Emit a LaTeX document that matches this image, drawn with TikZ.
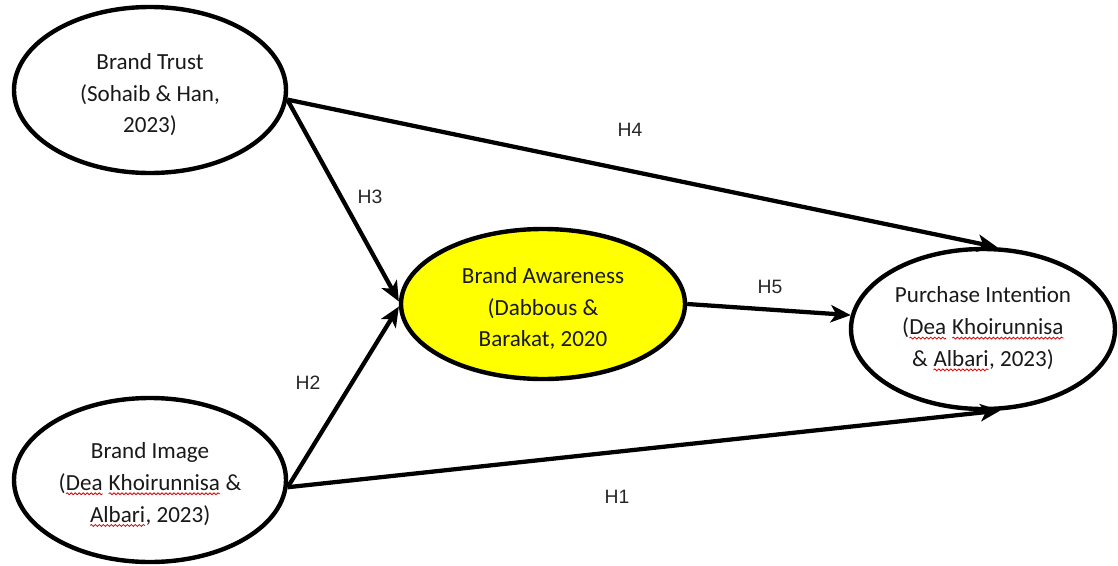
\documentclass[tikz,border=0pt]{standalone}
\usepackage{fontspec}
\setmainfont{Carlito}
\newfontfamily\labelfont{Liberation Sans}
\usetikzlibrary{shapes.geometric,arrows.meta,decorations.pathmorphing}
\definecolor{awareyellow}{HTML}{FFFF00}
\tikzset{
  construct/.style={ellipse, draw=black, line width=3.3pt, inner sep=0pt, align=center,
    font=\fontsize{17.3}{23.8}\selectfont, text=black!90},
  link/.style={line width=3.2pt, -{Stealth[length=15pt,width=13pt,inset=4pt]}},
  hyp/.style={font=\labelfont\fontsize{14.5}{16}\selectfont, text=black!85, inner sep=0pt},
}
\newcommand\squig[1]{\tikz[baseline=(w.base)]{\node[shape=rectangle,draw=none,fill=none,inner sep=0pt,outer sep=0pt,minimum width=0pt,minimum height=0pt] (w) {#1};
  \draw[red!90!black,line width=0.6pt,decorate,decoration={snake,amplitude=0.7pt,segment length=3pt}] ([yshift=-2.6pt]w.base west) -- ([yshift=-2.6pt]w.base east);}}
\newcommand\topgap{\rule{0pt}{19pt}}
\begin{document}
\begin{tikzpicture}[x=0.75pt,y=-0.75pt]
\useasboundingbox (0,0) rectangle (1118,565);
\node[construct, fill=white, minimum width=204pt, minimum height=124.5pt] (bt) at (150,90)
  {\topgap Brand Trust\\(Sohaib \& Han,\\2023)};
\node[construct, fill=white, minimum width=204pt, minimum height=123pt] (bi) at (150,480)
  {\topgap Brand Image\\(\squig{Dea} \squig{Khoirunnisa} \&\\\squig{Albari}, 2023)};
\node[construct, fill=awareyellow, minimum width=213pt, minimum height=112.5pt] (ba) at (543,304)
  {\topgap Brand Awareness\\(Dabbous \&\\Barakat, 2020};
\node[construct, fill=white, minimum width=198pt, minimum height=120pt] (pi) at (983,329)
  {Purchase Intention\\(\squig{Dea} \squig{Khoirunnisa}\\\& \squig{Albari}, 2023)};

\draw[link] (bt.-4) -- (pi.80);
\draw[link] (bt.-4) -- (ba.179);
\draw[link] (bi.-3) -- (ba.181);
\draw[link] (bi.-3) -- (pi.-78);
\draw[link] (ba.0) -- (pi.174);

\node[hyp] (h4) at (630,130) {H4};
\node[hyp] (h3) at (370,197) {H3};
\node[hyp] (h2) at (308,383) {H2};
\node[hyp] (h1) at (617,497) {H1};
\node[hyp] (h5) at (770,287) {H5};
\end{tikzpicture}
\end{document}
